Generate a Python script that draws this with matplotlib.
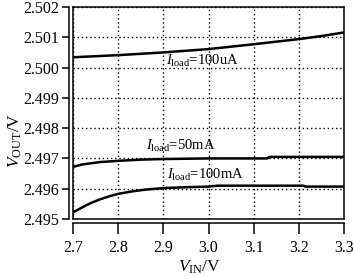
import matplotlib
matplotlib.use("Agg")
import matplotlib.pyplot as plt

plt.rcParams['font.family'] = ['Liberation Serif', 'DejaVu Serif']
plt.rcParams['mathtext.fontset'] = 'custom'
plt.rcParams['mathtext.rm'] = 'Liberation Serif'
plt.rcParams['mathtext.it'] = 'Liberation Serif:italic'

# Data
x_100uA = [2.70, 2.80, 2.90, 3.00, 3.10, 3.20, 3.25, 3.30]
y_100uA = [2.50034, 2.50041, 2.50050, 2.50061, 2.50077, 2.50094, 2.50104, 2.50116]

x_50mA = [2.70, 2.71, 2.72, 2.74, 2.76, 2.80, 2.85, 2.90, 3.00, 3.13, 3.135, 3.30]
y_50mA = [2.49672, 2.49676, 2.49680, 2.49684, 2.49688, 2.49692, 2.49696, 2.49698, 2.49700, 2.49700, 2.49705, 2.49705]

x_100mA = [2.70, 2.71, 2.72, 2.73, 2.74, 2.76, 2.78, 2.80, 2.83, 2.86, 2.90, 2.95, 3.00, 3.02, 3.21, 3.215, 3.30]
y_100mA = [2.49522, 2.49530, 2.49538, 2.49546, 2.49553, 2.49565, 2.49575, 2.49583, 2.49591, 2.49597, 2.49602, 2.49605, 2.49607, 2.49610, 2.49610, 2.49607, 2.49607]

xticks = [2.7, 2.8, 2.9, 3.0, 3.1, 3.2, 3.3]
yticks = [2.495, 2.496, 2.497, 2.498, 2.499, 2.500, 2.501, 2.502]

labels = [r'$I_{\mathrm{load}}$=100uA', r'$I_{\mathrm{load}}$=50mA', r'$I_{\mathrm{load}}$=100mA']
label_x = [2.905, 2.862, 2.908]
label_y = [2.50022, 2.49741, 2.49646]

W, H = 354, 276
fig = plt.figure(figsize=(W / 100, H / 100), dpi=100)
ax = fig.add_axes([73 / W, 1 - 219 / H, (344 - 73) / W, (219 - 7) / H])

for xs, ys in [(x_100uA, y_100uA), (x_50mA, y_50mA), (x_100mA, y_100mA)]:
    ax.plot(xs, ys, color='black', lw=1.8, solid_capstyle='butt', solid_joinstyle='round')

ax.set_xlim(2.7, 3.3)
ax.set_ylim(2.495, 2.502)
ax.set_xticks(xticks)
ax.set_xticklabels([f"{v:.1f}" for v in xticks])
ax.set_yticks(yticks)
ax.set_yticklabels([f"{v:.3f}" for v in yticks])

ax.grid(True, color='black', linestyle=(0, (1, 2)), lw=1.0)

for s in ['left', 'bottom']:
    ax.spines[s].set_position(('outward', 3))
for s in ax.spines.values():
    s.set_linewidth(1.1)
# inner frame lines
ax.plot([0, 0], [0, 1], transform=ax.transAxes, color='black', lw=1.1, clip_on=False)
ax.plot([0, 1], [0, 0], transform=ax.transAxes, color='black', lw=1.1, clip_on=False)

ax.tick_params(axis='y', direction='out', length=5, width=1.1, pad=2, labelsize=11.5)
ax.tick_params(axis='x', direction='out', length=8, width=1.1, pad=4, labelsize=11.5)

for t, lx, ly in zip(labels, label_x, label_y):
    ax.text(lx, ly, t, fontsize=10.5, ha='left', va='center')

fig.text(200 / W, 1 - 267 / H, r'$V_{\mathrm{IN}}$/V', fontsize=12.5, ha='center', va='center')
fig.text(15 / W, 1 - 140 / H, r'$V_{\mathrm{OUT}}$/V', fontsize=12.5, ha='center', va='center', rotation=90)

fig.savefig('out.png', dpi=100)
